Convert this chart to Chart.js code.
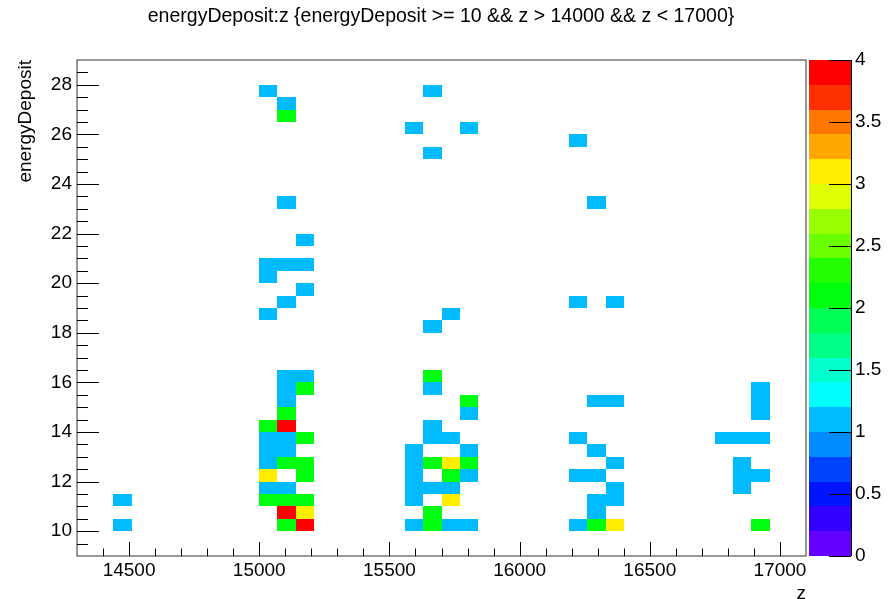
<!DOCTYPE html>
<html>
<head>
<meta charset="utf-8">
<script src="https://cdn.jsdelivr.net/npm/chart.js@4.4.1/dist/chart.umd.min.js"></script>
<style>
  html, body { margin: 0; padding: 0; background: #fff; }
  #wrap { width: 896px; height: 599px; }
</style>
</head>
<body>
<div id="wrap"><canvas id="hist" width="896" height="599"></canvas></div>
<script>
// 2D histogram binning: 40 x 40 bins
const zRange = [14300, 17100];
const eRange = [9, 29];
const nBinsZ = 40;
const nBinsE = 40;
const zBinW = (zRange[1] - zRange[0]) / nBinsZ;
const eBinW = (eRange[1] - eRange[0]) / nBinsE;

// Filled bins, column by column: bin centre in z, bin centre in energyDeposit, entries
const cellZ = [
  14475, 14475,
  15035, 15035, 15035, 15035, 15035, 15035, 15035, 15035, 15035, 15035, 15035,
  15105, 15105, 15105, 15105, 15105, 15105, 15105, 15105, 15105, 15105, 15105, 15105, 15105, 15105, 15105, 15105, 15105,
  15175, 15175, 15175, 15175, 15175, 15175, 15175, 15175, 15175, 15175, 15175,
  15595, 15595, 15595, 15595, 15595, 15595, 15595,
  15665, 15665, 15665, 15665, 15665, 15665, 15665, 15665, 15665, 15665, 15665,
  15735, 15735, 15735, 15735, 15735, 15735, 15735,
  15805, 15805, 15805, 15805, 15805, 15805, 15805,
  16225, 16225, 16225, 16225, 16225,
  16295, 16295, 16295, 16295, 16295, 16295, 16295,
  16365, 16365, 16365, 16365, 16365, 16365,
  16785,
  16855, 16855, 16855, 16855,
  16925, 16925, 16925, 16925, 16925, 16925
];
const cellE = [
  10.25, 11.25,
  11.25, 11.75, 12.25, 12.75, 13.25, 13.75, 14.25, 18.75, 20.25, 20.75, 27.75,
  10.25, 10.75, 11.25, 11.75, 12.75, 13.25, 13.75, 14.25, 14.75, 15.25, 15.75, 16.25, 19.25, 20.75, 23.25, 26.75, 27.25,
  10.25, 10.75, 11.25, 12.25, 12.75, 13.75, 15.75, 16.25, 19.75, 20.75, 21.75,
  10.25, 11.25, 11.75, 12.25, 12.75, 13.25, 26.25,
  10.25, 10.75, 11.75, 12.75, 13.75, 14.25, 15.75, 16.25, 18.25, 25.25, 27.75,
  10.25, 11.25, 11.75, 12.25, 12.75, 13.75, 18.75,
  10.25, 12.25, 12.75, 13.25, 14.75, 15.25, 26.25,
  10.25, 12.25, 13.75, 19.25, 25.75,
  10.25, 10.75, 11.25, 12.25, 13.25, 15.25, 23.25,
  10.25, 11.25, 11.75, 12.75, 15.25, 19.25,
  13.75,
  11.75, 12.25, 12.75, 13.75,
  10.25, 12.25, 13.75, 14.75, 15.25, 15.75
];
const cellCount = [
  1, 1,
  2, 1, 3, 1, 1, 1, 2, 1, 1, 1, 1,
  2, 4, 2, 1, 2, 1, 1, 4, 2, 1, 1, 1, 1, 1, 1, 2, 1,
  4, 3, 2, 2, 2, 2, 2, 1, 1, 1, 1,
  1, 1, 1, 1, 1, 1, 1,
  2, 2, 1, 2, 1, 1, 1, 2, 1, 1, 1,
  1, 3, 1, 2, 3, 1, 1,
  1, 1, 2, 1, 1, 2, 1,
  1, 1, 1, 1, 1,
  2, 1, 1, 1, 1, 1, 1,
  3, 1, 1, 1, 1, 1,
  1,
  1, 1, 1, 1,
  2, 1, 1, 1, 1, 1
];

// Axis ticks
const zTicks = [14500, 15000, 15500, 16000, 16500, 17000];
const zMinorStep = 100;
const eTicks = [10, 12, 14, 16, 18, 20, 22, 24, 26, 28];
const eMinorStep = 0.5;
const countTicks = [0, 0.5, 1, 1.5, 2, 2.5, 3, 3.5, 4];
const countMax = 4;
const nLevels = 20;

const FONT = 'Liberation Sans, Arial, Helvetica, sans-serif';

// rainbow palette: 50 hues from violet to red, 20 contour levels picked from it
function levelColor(level) {
  const idx = Math.floor((level + 0.99) * 50 / nLevels);
  const hue = 280 - (idx + 1) * 5.6;
  return 'hsl(' + hue + ', 100%, 50%)';
}
function countColor(n) {
  const level = Math.min(nLevels - 1, Math.floor(n / countMax * nLevels));
  return levelColor(level);
}

// fixed axis box sizes, and no extra room reserved for overhanging labels
function fixBox(w, h) {
  return s => {
    if (w !== null) s.width = w;
    if (h !== null) s.height = h;
    s.paddingTop = 0;
    s.paddingBottom = 0;
    s.paddingLeft = 0;
    s.paddingRight = 0;
  };
}

const colzPlugin = {
  id: 'colz',
  afterDatasetsDraw(chart) {
    const { ctx, chartArea: a, scales: { x, y, c } } = chart;
    const pts = chart.data.datasets[0].data;
    ctx.save();

    // cells
    pts.forEach(p => {
      const x0 = Math.round(x.getPixelForValue(p.x - zBinW / 2));
      const x1 = Math.round(x.getPixelForValue(p.x + zBinW / 2));
      const y0 = Math.round(y.getPixelForValue(p.y + eBinW / 2));
      const y1 = Math.round(y.getPixelForValue(p.y - eBinW / 2));
      ctx.fillStyle = countColor(p.n);
      ctx.fillRect(x0, y0, x1 - x0, y1 - y0);
    });

    // frame
    ctx.strokeStyle = '#333';
    ctx.lineWidth = 1;
    ctx.strokeRect(a.left, a.top, a.right - a.left, a.bottom - a.top);

    // inward tick marks
    ctx.strokeStyle = '#000';
    ctx.beginPath();
    for (let v = eRange[0] + eMinorStep; v < eRange[1]; v += eMinorStep) {
      const py = Math.round(y.getPixelForValue(v)) + 0.5;
      const len = eTicks.includes(v) ? 22 : 11;
      ctx.moveTo(a.left, py);
      ctx.lineTo(a.left + len, py);
    }
    for (let v = zRange[0] + zMinorStep; v < zRange[1]; v += zMinorStep) {
      const px = Math.round(x.getPixelForValue(v)) + 0.5;
      const len = zTicks.includes(v) ? 14 : 7.5;
      ctx.moveTo(px, a.bottom);
      ctx.lineTo(px, a.bottom - len);
    }
    ctx.stroke();

    // colour palette box
    const bx0 = a.right + 3, bx1 = a.right + 45;
    const step = countMax / nLevels;
    for (let k = 0; k < nLevels; k++) {
      const ya = Math.round(c.getPixelForValue((k + 1) * step));
      const yb = Math.round(c.getPixelForValue(k * step));
      ctx.fillStyle = levelColor(k);
      ctx.fillRect(bx0, ya, bx1 - bx0, yb - ya);
    }
    ctx.strokeStyle = '#000';
    ctx.beginPath();
    ctx.moveTo(bx1 + 0.5, c.top);
    ctx.lineTo(bx1 + 0.5, c.bottom);
    countTicks.forEach(v => {
      const py = Math.round(c.getPixelForValue(v)) + 0.5;
      ctx.moveTo(bx1, py);
      ctx.lineTo(bx1 - 22, py);
    });
    ctx.stroke();
    ctx.restore();
  }
};

const tickFont = { family: FONT, size: 19 };

new Chart(document.getElementById('hist'), {
  type: 'scatter',
  data: {
    datasets: [{
      data: cellZ.map((z, i) => ({ x: z, y: cellE[i], n: cellCount[i] })),
      xAxisID: 'x',
      yAxisID: 'y',
      pointRadius: 0,
      pointHoverRadius: 0
    }]
  },
  options: {
    responsive: false,
    animation: false,
    events: [],
    layout: { padding: { left: 0, right: 14, top: 0, bottom: 0 } },
    plugins: {
      legend: { display: false },
      tooltip: { enabled: false },
      title: {
        display: true,
        text: 'energyDeposit:z {energyDeposit >= 10 && z > 14000 && z < 17000}',
        color: '#000',
        font: { family: FONT, size: 19.5, weight: 'normal', lineHeight: 1.2 },
        padding: { top: 5, bottom: 31.6 }
      }
    },
    scales: {
      x: {
        type: 'linear',
        position: 'bottom',
        min: zRange[0],
        max: zRange[1],
        afterFit: fixBox(null, 43),
        afterBuildTicks: s => { s.ticks = zTicks.map(v => ({ value: v })); },
        grid: { display: false, drawTicks: false },
        border: { display: false },
        ticks: { padding: 3, color: '#000', font: tickFont, maxRotation: 0, autoSkip: false, callback: v => String(v) },
        title: { display: true, text: 'z', align: 'end', color: '#000', padding: 0, font: { family: FONT, size: 19, lineHeight: 0.6 } }
      },
      y: {
        type: 'linear',
        position: 'left',
        min: eRange[0],
        max: eRange[1],
        afterFit: fixBox(77, null),
        afterBuildTicks: s => { s.ticks = eTicks.map(v => ({ value: v })); },
        grid: { display: false, drawTicks: false },
        border: { display: false },
        ticks: { padding: 5, color: '#000', font: tickFont, autoSkip: false, callback: v => String(v) },
        title: { display: true, text: 'energyDeposit', align: 'end', color: '#000', padding: { top: 14, bottom: 0 }, font: { family: FONT, size: 19, lineHeight: 1.2 } }
      },
      c: {
        type: 'linear',
        axis: 'y',
        position: 'right',
        min: 0,
        max: countMax,
        afterFit: fixBox(76, null),
        afterBuildTicks: s => { s.ticks = countTicks.map(v => ({ value: v })); },
        grid: { display: false, drawTicks: false },
        border: { display: false },
        ticks: { padding: 49, color: '#000', font: tickFont, autoSkip: false, callback: v => String(v) }
      }
    }
  },
  plugins: [colzPlugin]
});
</script>
</body>
</html>
